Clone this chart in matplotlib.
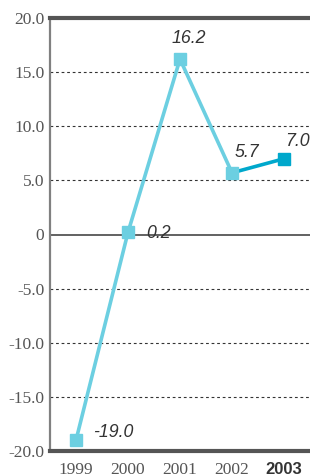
import matplotlib
matplotlib.use("Agg")
import matplotlib.pyplot as plt

years = ["1999", "2000", "2001", "2002", "2003"]
values = [-19.0, 0.2, 16.2, 5.7, 7.0]
yticks = [-20, -15, -10, -5, 0, 5, 10, 15, 20]
ytick_labels = ["-20.0", "-15.0", "-10.0", "-5.0", "0", "5.0", "10.0", "15.0", "20.0"]

light = "#6ccfe1"
dark = "#00a8cc"

fig = plt.figure(figsize=(3.10, 4.76), dpi=100)
ax = fig.add_axes([50/310, 25/476, 1 - 50/310, (451-18)/476])

x = list(range(len(years)))
ax.plot(x[:4], values[:4], color=light, lw=2.6, zorder=3)
ax.plot(x[3:], values[3:], color=dark, lw=2.6, zorder=3)
ax.plot(x[:4], values[:4], ls="none", marker="s", ms=9.2, color=light, zorder=4)
ax.plot(x[4:], values[4:], ls="none", marker="s", ms=9.2, color=dark, zorder=4)

ax.set_xlim(-0.5, 4.5)
ax.set_ylim(-20, 20)

for yv in [-15, -10, -5, 5, 10, 15]:
    ax.axhline(yv, color="#333333", lw=0.8, ls=(0, (2.5, 2.5)), zorder=1)
ax.axhline(0, color="#555555", lw=1.3, zorder=2)

ax.set_yticks(yticks)
ax.set_yticklabels(ytick_labels, family="Liberation Serif", fontsize=12.5, color="#555555")
ax.set_xticks(x)
ax.set_xticklabels(years, family="Liberation Serif", fontsize=12.5, color="#555555")
lab = ax.get_xticklabels()[-1]
lab.set_family("Liberation Sans")
lab.set_weight("bold")
lab.set_color("#333333")
lab.set_fontsize(12)
ax.tick_params(axis="both", length=0)
ax.tick_params(axis="y", pad=4)
ax.tick_params(axis="x", pad=8)

ax.spines["left"].set_color("#808080")
ax.spines["left"].set_linewidth(1.6)
ax.spines["right"].set_visible(False)
for s in ["top", "bottom"]:
    ax.spines[s].set_color("#555555")
    ax.spines[s].set_linewidth(3.0)

offsets = [(17, 3), (18, -6), (-8, 16), (3, 16), (1, 13)]
for i, v in enumerate(values):
    ax.annotate(f"{v:.1f}", (x[i], v), xytext=offsets[i], textcoords="offset pixels",
                ha="left", va="baseline", fontsize=12.8, style="italic",
                family="Liberation Sans", color="#333333", annotation_clip=False)

fig.savefig("out.png", dpi=100)
